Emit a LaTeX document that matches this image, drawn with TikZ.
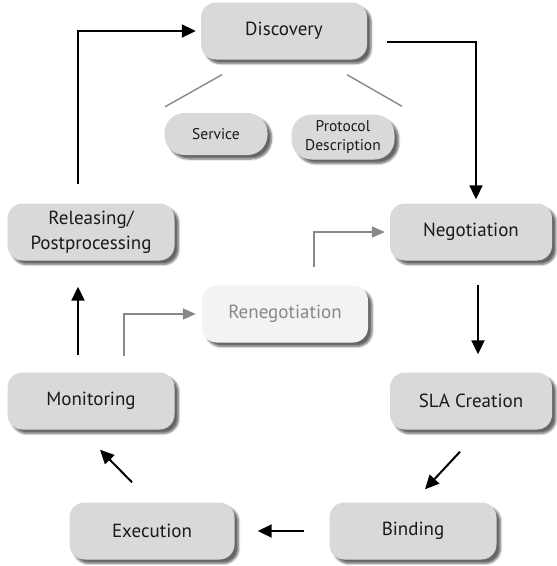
\documentclass[tikz,border=0pt]{standalone}
\usepackage{fontspec}
\setmainfont{PT Sans}
\usetikzlibrary{arrows.meta,shadows.blur}
\definecolor{boxfill}{HTML}{D9D9D9}
\definecolor{lightfill}{HTML}{F3F3F3}
\definecolor{greyline}{HTML}{888888}
\definecolor{textdark}{HTML}{1A1A1A}
\tikzset{
  stagebox/.style={draw=none, fill=boxfill, rounded corners=15pt, minimum width=166pt, minimum height=57pt,
    inner sep=0pt, align=center, text=textdark, font=\fontsize{19}{25}\selectfont,
    blur shadow={shadow xshift=4pt, shadow yshift=-4pt, shadow blur steps=6, shadow opacity=60}},
  smallbox/.style={stagebox, rounded corners=20pt, minimum width=103pt, minimum height=42pt,
    font=\fontsize{15.5}{19}\selectfont},
  faintbox/.style={stagebox, fill=lightfill, text=greyline},
  blackarrow/.style={line width=2pt, draw=black, -{Triangle[length=14pt,width=13pt]}},
  greyarrow/.style={line width=1.6pt, draw=greyline, -{Triangle[length=13pt,width=11pt]}},
  greylink/.style={line width=1.4pt, draw=greyline}
}
\begin{document}
\begin{tikzpicture}[x=1pt,y=-1pt]
\useasboundingbox (0,0) rectangle (557,566);
\node[stagebox] (disc) at (284,31) {Discovery};
\node[smallbox] (serv) at (216,134) {Service};
\node[smallbox, minimum height=45pt] (prot) at (343,137) {Protocol\\Description};
\node[stagebox, minimum width=162pt] (neg) at (471,232) {Negotiation};
\node[stagebox, minimum width=167pt] (rel) at (91,232) {Releasing/\\Postprocessing};
\node[faintbox] (reneg) at (285,314) {Renegotiation};
\node[stagebox, minimum width=167pt] (mon) at (91,401) {Monitoring};
\node[stagebox, minimum width=162pt] (sla) at (471,401) {SLA Creation};
\node[stagebox, minimum width=165pt] (exec) at (152,531) {Execution};
\node[stagebox, minimum width=167pt] (bind) at (413,531) {Binding};

\draw[greylink] ([xshift=-62pt,yshift=-15pt]disc.south) -- ([xshift=-51pt,yshift=6pt]serv.north);
\draw[greylink] ([xshift=63pt,yshift=-15pt]disc.south) -- ([xshift=59pt,yshift=8pt]prot.north);

\draw[blackarrow] ([xshift=-13pt,yshift=19pt]rel.north) |- ([xshift=-5pt]disc.west);
\draw[blackarrow] ([xshift=20pt,yshift=-11pt]disc.east) -| ([xshift=5pt,yshift=4pt]neg.north);
\draw[blackarrow] ([xshift=7pt,yshift=-24pt]neg.south) -- ([xshift=7pt,yshift=18pt]sla.north);
\draw[blackarrow] ([xshift=-11pt,yshift=-22pt]sla.south) -- ([xshift=12pt,yshift=13pt]bind.north);
\draw[blackarrow] ([xshift=-25pt]bind.west) -- ([xshift=23pt]exec.east);
\draw[blackarrow] ([xshift=-20pt,yshift=20pt]exec.north) -- ([xshift=9pt,yshift=-20pt]mon.south);
\draw[blackarrow] ([xshift=-13pt,yshift=17pt]mon.north) -- ([xshift=-13pt,yshift=-26pt]rel.south);
\draw[greyarrow] ([xshift=33pt,yshift=16pt]mon.north) |- ([xshift=-6pt]reneg.west);
\draw[greyarrow] ([xshift=29pt,yshift=18pt]reneg.north) |- ([xshift=-5pt]neg.west);
\end{tikzpicture}
\end{document}
